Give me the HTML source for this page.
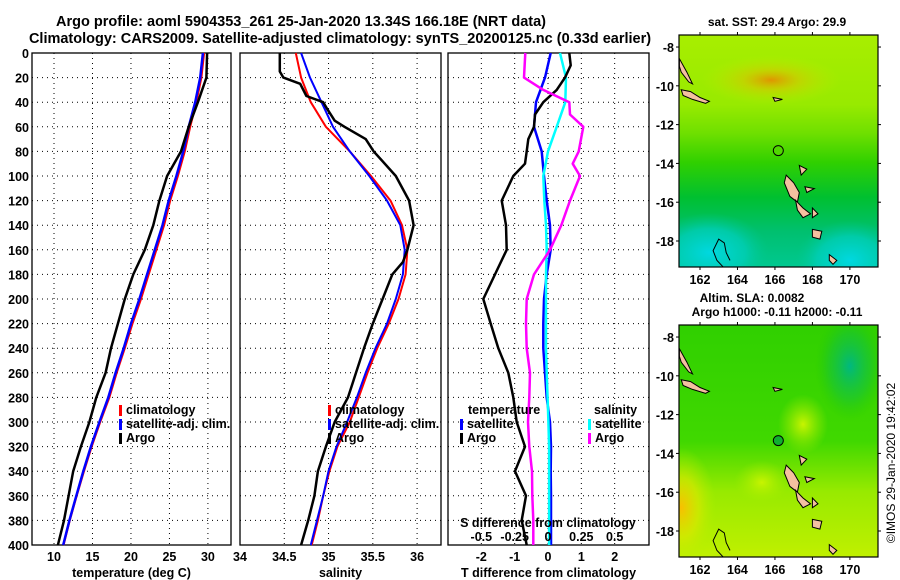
<!DOCTYPE html>
<html><head><meta charset="utf-8"><style>
body{margin:0;background:#fff;}
svg{display:block;font-family:"Liberation Sans",Arial,sans-serif;font-weight:bold;}
</style></head><body>
<svg id="fig" width="900" height="580" viewBox="0 0 900 580" xmlns="http://www.w3.org/2000/svg">
<rect width="900" height="580" fill="#fff"/>
<text x="301" y="26" font-size="14.5" text-anchor="middle">Argo profile: aoml 5904353_261 25-Jan-2020 13.34S 166.18E (NRT data)</text>
<text x="340" y="43" font-size="14.5" text-anchor="middle">Climatology: CARS2009. Satellite-adjusted climatology: synTS_20200125.nc (0.33d earlier)</text>
<g id="plots"></g>
<text transform="translate(895,463) rotate(-90)" font-size="12" font-weight="normal" text-anchor="middle">©IMOS 29-Jan-2020 19:42:02</text>
</svg>
<script>
// depth levels (dbar) for all profiles
const depths = [0,20,40,60,80,100,120,140,160,180,200,220,240,260,280,300,320,340,360,380,400];
const tempClim = [29.5,29.15,28.5,27.7,27.0,26.1,25.1,24.3,23.3,22.3,21.3,20.2,19.2,18.15,17.2,16.0,14.9,13.9,12.95,12.05,11.25];
const tempSat  = [29.35,29.0,28.35,27.5,26.8,25.9,24.9,24.1,23.1,22.1,21.1,20.0,19.05,18.0,17.05,15.9,14.8,13.8,12.9,12.0,11.2];
const tempArgo = [29.9,29.8,28.7,27.5,26.5,24.7,23.7,22.9,21.8,20.3,19.2,18.3,17.4,16.7,15.5,14.6,13.5,12.5,11.9,11.3,10.5];
const salClim = [34.63,34.69,34.80,34.97,35.24,35.48,35.70,35.83,35.89,35.87,35.79,35.68,35.55,35.44,35.34,35.24,35.10,35.01,34.94,34.88,34.81];
const salSat  = [34.69,34.79,34.92,35.05,35.24,35.46,35.66,35.81,35.86,35.84,35.76,35.66,35.53,35.42,35.32,35.21,35.09,35.0,34.94,34.87,34.80];
const salArgoDepths = [0,15,20,25,35,40,45,55,60,70,80,100,120,140,160,170,180,200,220,240,260,280,300,320,340,360,380,400];
const salArgo = [34.45,34.45,34.49,34.68,34.75,34.94,34.98,35.07,35.18,35.42,35.51,35.76,35.91,35.96,35.89,35.84,35.72,35.61,35.50,35.40,35.31,35.22,35.07,34.97,34.88,34.84,34.77,34.69];
const tDiffSat = [0.08,-0.09,-0.36,-0.42,-0.19,-0.12,-0.04,0.06,0.08,-0.04,-0.12,-0.14,-0.14,-0.09,-0.04,0.06,0.09,0.08,0.09,0.09,0.09];
const sDiffSat = [0.09,0.135,0.13,0.065,0.0,-0.035,-0.028,-0.015,-0.01,-0.015,-0.015,-0.015,-0.015,-0.01,-0.003,0.003,0.008,0.008,0.008,0.008,0.008];
const tArgoDepths = [0,10,20,30,40,50,60,70,80,90,100,120,140,160,180,200,220,240,260,280,300,320,340,360,380,400];
const tDiffArgo = [0.64,0.68,0.51,0.26,-0.14,-0.39,-0.42,-0.59,-0.64,-0.69,-1.04,-1.39,-1.26,-1.24,-1.59,-1.94,-1.72,-1.49,-1.19,-1.04,-0.94,-0.69,-0.99,-0.66,-0.79,-0.64];
const sArgoDepths = [0,20,30,40,50,60,80,90,100,120,140,160,180,200,220,240,260,280,300,320,340,360,380,400];
const sDiffArgo = [-0.17,-0.18,-0.035,0.16,0.165,0.265,0.23,0.185,0.24,0.165,0.10,0.015,-0.105,-0.16,-0.165,-0.16,-0.135,-0.14,-0.15,-0.14,-0.12,-0.118,-0.11,-0.11];
const depthTicks = [0,20,40,60,80,100,120,140,160,180,200,220,240,260,280,300,320,340,360,380,400];
const tempTicks = [10,15,20,25,30];
const salTicks = [34,34.5,35,35.5,36];
const tDiffTicks = [-2,-1,0,1,2];
const sDiffTicks = [-0.5,-0.25,0,0.25,0.5];
const sDiffTickLabels = ['-0.5','-0.25','0','0.25','0.5'];
const lonTicks = [162,164,166,168,170];
const latTicks = [-8,-10,-12,-14,-16,-18];
const argoLon = 166.18, argoLat = -13.34;

const NS='http://www.w3.org/2000/svg';
const root=document.getElementById('plots');
function mk(tag,attrs,parent){const e=document.createElementNS(NS,tag);for(const k in attrs)e.setAttribute(k,attrs[k]);(parent||root).appendChild(e);return e;}
const Y0=53,Y1=545;
const yD=d=>Y0+(d/400)*(Y1-Y0);

function panel(name,x0,x1,vmin,vmax,ticks,tickLabels,xlabel){
  const g=mk('g',{});
  
  
  const sx=v=>x0+(v-vmin)/(vmax-vmin)*(x1-x0);
  ticks.forEach((t,i)=>{
    const x=sx(t);
    if(x>x0+1&&x<x1-1){const l=mk('line',{x1:x,x2:x,y1:Y0,y2:Y1,stroke:'#000','stroke-width':1,'stroke-dasharray':'1,4'},g);
    }
    if(tickLabels){const tx=mk('text',{x:x,y:561,'font-size':12.5,'text-anchor':'middle'},g);tx.textContent=tickLabels[i];
    }
  });
  depthTicks.forEach(d=>{
    const y=yD(d);
    if(d>0&&d<400){const l=mk('line',{x1:x0,x2:x1,y1:y,y2:y,stroke:'#000','stroke-width':1,'stroke-dasharray':'1,4'},g);
    }
  });
  const r=mk('rect',{x:x0,y:Y0,width:x1-x0,height:Y1-Y0,fill:'none',stroke:'#000','stroke-width':1.3},g);
  
  if(xlabel){const t=mk('text',{x:(x0+x1)/2,y:577,'font-size':12.5,'text-anchor':'middle'},g);t.textContent=xlabel;
  }
  return {g,sx};
}
function curve(p,ds,vals,color,w,name){
  const pts=ds.map((d,i)=>p.sx(vals[i]).toFixed(1)+','+yD(d).toFixed(1)).join(' ');
  const l=mk('polyline',{points:pts,fill:'none',stroke:color,'stroke-width':w,'stroke-linejoin':'round'},p.g);
  
  
}
function legendEntry(g,x,y,color,label){
  const b=mk('rect',{x:x,y:y-9,width:3,height:11,fill:color},g);
  
  const t=mk('text',{x:x+7,y:y,'font-size':12.5},g);t.textContent=label;
  
}

depthTicks.forEach(d=>{const t=mk('text',{x:29,y:yD(d)+5,'font-size':12.5,'text-anchor':'end'});t.textContent=d;
});

const p1=panel('temperature-panel',32,231,7.14,33.0,tempTicks,tempTicks.map(String),'temperature (deg C)');
curve(p1,depths,tempClim,'#f00',2,'temperature-climatology-line');
curve(p1,depths,tempSat,'#00f',2.5,'temperature-satellite-line');
curve(p1,depths,tempArgo,'#000',2.5,'temperature-argo-line');
legendEntry(p1.g,119,414,'#f00','climatology');
legendEntry(p1.g,119,428,'#00f','satellite-adj. clim.');
legendEntry(p1.g,119,442,'#000','Argo');

const p2=panel('salinity-panel',240,441,34.0,36.27,salTicks,['34','34.5','35','35.5','36'],'salinity');
curve(p2,depths,salClim,'#f00',2,'salinity-climatology-line');
curve(p2,depths,salSat,'#00f',2,'salinity-satellite-line');
curve(p2,salArgoDepths,salArgo,'#000',2.5,'salinity-argo-line');
legendEntry(p2.g,328,414,'#f00','climatology');
legendEntry(p2.g,328,428,'#00f','satellite-adj. clim.');
legendEntry(p2.g,328,442,'#000','Argo');

const p3=panel('difference-panel',448,649,-3,3.03,tDiffTicks,tDiffTicks.map(String),'T difference from climatology');
const p3s={g:p3.g,sx:v=>p3.sx(v*4)};
curve(p3,depths,tDiffSat,'#00f',2.5,'t-diff-satellite-line');
curve(p3s,depths,sDiffSat,'#0ff',2.5,'s-diff-satellite-line');
curve(p3,tArgoDepths,tDiffArgo,'#000',2.5,'t-diff-argo-line');
curve(p3s,sArgoDepths,sDiffArgo,'#f0f',2.5,'s-diff-argo-line');
const tt=mk('text',{x:468,y:414,'font-size':12.5},p3.g);tt.textContent='temperature';

const st=mk('text',{x:594,y:414,'font-size':12.5},p3.g);st.textContent='salinity';

legendEntry(p3.g,460,428,'#00f','satellite');
legendEntry(p3.g,460,442,'#000','Argo');
legendEntry(p3.g,588,428,'#0ff','satellite');
legendEntry(p3.g,588,442,'#f0f','Argo');
const sl=mk('text',{x:548,y:527,'font-size':12.5,'text-anchor':'middle'},p3.g);sl.textContent='S difference from climatology';

sDiffTicks.forEach((v,i)=>{const t=mk('text',{x:p3s.sx(v),y:541,'font-size':12.5,'text-anchor':'middle'},p3.g);t.textContent=sDiffTickLabels[i];
});

const MX0=679,MX1=878,LON0=160.88,LON1=171.5,LAT0=-7.38,LAT1=-19.34;
const defs=mk('defs',{});
function grad(id,stops,radial,attrs){
  const g=mk(radial?'radialGradient':'linearGradient',Object.assign({id:id},attrs||{}),defs);
  stops.forEach(s=>mk('stop',{offset:s[0],'stop-color':s[1],'stop-opacity':s[2]===undefined?1:s[2]},g));
}
grad('sstV',[[0,'#a8ee00'],[0.3,'#98ea00'],[0.42,'#70e000'],[0.55,'#30d000'],[0.7,'#00c030'],[0.85,'#00c070'],[1,'#00c890']],false,{x1:0,y1:0,x2:0,y2:1});
grad('warm',[[0,'#f08000',0.8],[0.4,'#e0c000',0.5],[1,'#c0f000',0]],true);
grad('cyan',[[0,'#00d8e0',1],[0.6,'#00d0c0',0.7],[1,'#00c890',0]],true);
grad('slaV',[[0,'#30d000'],[0.5,'#40d800'],[0.72,'#98ea00'],[1,'#c0f000']],false,{x1:0,y1:0,x2:0,y2:1});
grad('orange',[[0,'#f8c000',1],[0.5,'#d8e800',0.7],[1,'#b0f000',0]],true);
grad('teal',[[0,'#00b880',1],[0.6,'#10c040',0.5],[1,'#20c800',0]],true);
grad('yel',[[0,'#c8f400',1],[1,'#a0ec00',0]],true);

function map(name,Y0m,kind,title){
  const Y1m=Y0m+232;
  const g=mk('g',{});
  
  
  const mx=l=>MX0+(l-LON0)/(LON1-LON0)*(MX1-MX0);
  const my=l=>Y0m+(l-LAT0)/(LAT1-LAT0)*(Y1m-Y0m);
  const clip=mk('clipPath',{id:'c'+name},defs);
  mk('rect',{x:MX0,y:Y0m,width:MX1-MX0,height:232},clip);
  const bg=mk('g',{'clip-path':'url(#c'+name+')'},g);
  if(kind==='sst'){
    mk('rect',{x:MX0,y:Y0m,width:199,height:232,fill:'url(#sstV)'},bg);
    mk('ellipse',{cx:mx(165.8),cy:my(-9.7),rx:70,ry:25,fill:'url(#warm)'},bg);
    mk('ellipse',{cx:mx(162.5),cy:my(-18.6),rx:60,ry:40,fill:'url(#cyan)'},bg);
    mk('ellipse',{cx:mx(170),cy:my(-19),rx:55,ry:40,fill:'url(#cyan)'},bg);
  } else {
    mk('rect',{x:MX0,y:Y0m,width:199,height:232,fill:'url(#slaV)'},bg);
    mk('ellipse',{cx:mx(161),cy:my(-16.8),rx:35,ry:60,fill:'url(#orange)'},bg);
    mk('ellipse',{cx:mx(170),cy:my(-9.5),rx:35,ry:55,fill:'url(#teal)'},bg);
    mk('ellipse',{cx:mx(165.3),cy:my(-15.5),rx:28,ry:22,fill:'url(#yel)'},bg);
    mk('ellipse',{cx:mx(167.5),cy:my(-12.5),rx:25,ry:30,fill:'url(#yel)'},bg);
  }
  const isl=[
    [[160.9,-8.6],[161.3,-9.3],[161.6,-9.9],[161.4,-9.8],[161.0,-9.3],[160.9,-9.0]],
    [[161.0,-10.2],[161.5,-10.3],[162.0,-10.6],[162.5,-10.8],[162.3,-10.9],[161.6,-10.7],[161.1,-10.5]],
    [[166.6,-14.6],[167.0,-15.0],[167.3,-15.5],[167.2,-16.0],[166.8,-15.7],[166.5,-15.0]],
    [[167.1,-15.9],[167.5,-16.3],[167.9,-16.6],[167.5,-16.8],[167.2,-16.4]],
    [[168.0,-17.4],[168.5,-17.5],[168.4,-17.9],[168.0,-17.8]],
    [[168.9,-18.7],[169.3,-19.0],[169.1,-19.2],[168.9,-19.0]],
    [[167.3,-14.1],[167.7,-14.3],[167.4,-14.6]],
    [[167.6,-15.2],[168.1,-15.3],[167.7,-15.5]],
    [[168.0,-16.3],[168.3,-16.6],[168.0,-16.8]],
    [[165.9,-10.6],[166.4,-10.7],[166.0,-10.8]]
  ];
  isl.forEach(p=>{const e=mk('polygon',{points:p.map(q=>mx(q[0]).toFixed(1)+','+my(q[1]).toFixed(1)).join(' '),fill:'#f4c0a0',stroke:'#000','stroke-width':1},bg);
    });
  const nc=mk('polyline',{points:[[163.3,-19.4],[162.9,-19.0],[162.7,-18.5],[163.0,-17.9],[163.3,-18.1],[163.4,-18.6],[163.6,-19.0]].map(q=>mx(q[0]).toFixed(1)+','+my(q[1]).toFixed(1)).join(' '),fill:'none',stroke:'#000','stroke-width':1},bg);
  
  const c=mk('circle',{cx:mx(argoLon),cy:my(argoLat),r:5,fill:kind==='sst'?'#50d800':'#10b030',stroke:'#000','stroke-width':1},g);
  
  const fr=mk('rect',{x:MX0,y:Y0m,width:199,height:232,fill:'none',stroke:'#000','stroke-width':1.2},g);
  
  lonTicks.forEach(l=>{const x=mx(l);
    mk('line',{x1:x,x2:x,y1:Y0m,y2:Y0m-3,stroke:'#000'},g);mk('line',{x1:x,x2:x,y1:Y1m,y2:Y1m+3,stroke:'#000'},g);
    const t=mk('text',{x:x,y:Y1m+17,'font-size':12.5,'text-anchor':'middle'},g);t.textContent=l;
    });
  latTicks.forEach(l=>{const y=my(l);
    mk('line',{x1:MX0,x2:MX0-3,y1:y,y2:y,stroke:'#000'},g);mk('line',{x1:MX1,x2:MX1+3,y1:y,y2:y,stroke:'#000'},g);
    const t=mk('text',{x:MX0-5,y:y+5,'font-size':12.5,'text-anchor':'end'},g);t.textContent=l;
    });
  title.forEach((s,i)=>{const t=mk('text',{x:s[1],y:s[2],'font-size':12,'text-anchor':'middle'},g);t.textContent=s[0];
    });
}
map('sst-map',35,'sst',[['sat. SST: 29.4 Argo: 29.9',777,26]]);
map('sla-map',325,'sla',[['Altim. SLA: 0.0082',752,302],['Argo h1000: -0.11 h2000: -0.11',777,316]]);
</script>
</body></html>
